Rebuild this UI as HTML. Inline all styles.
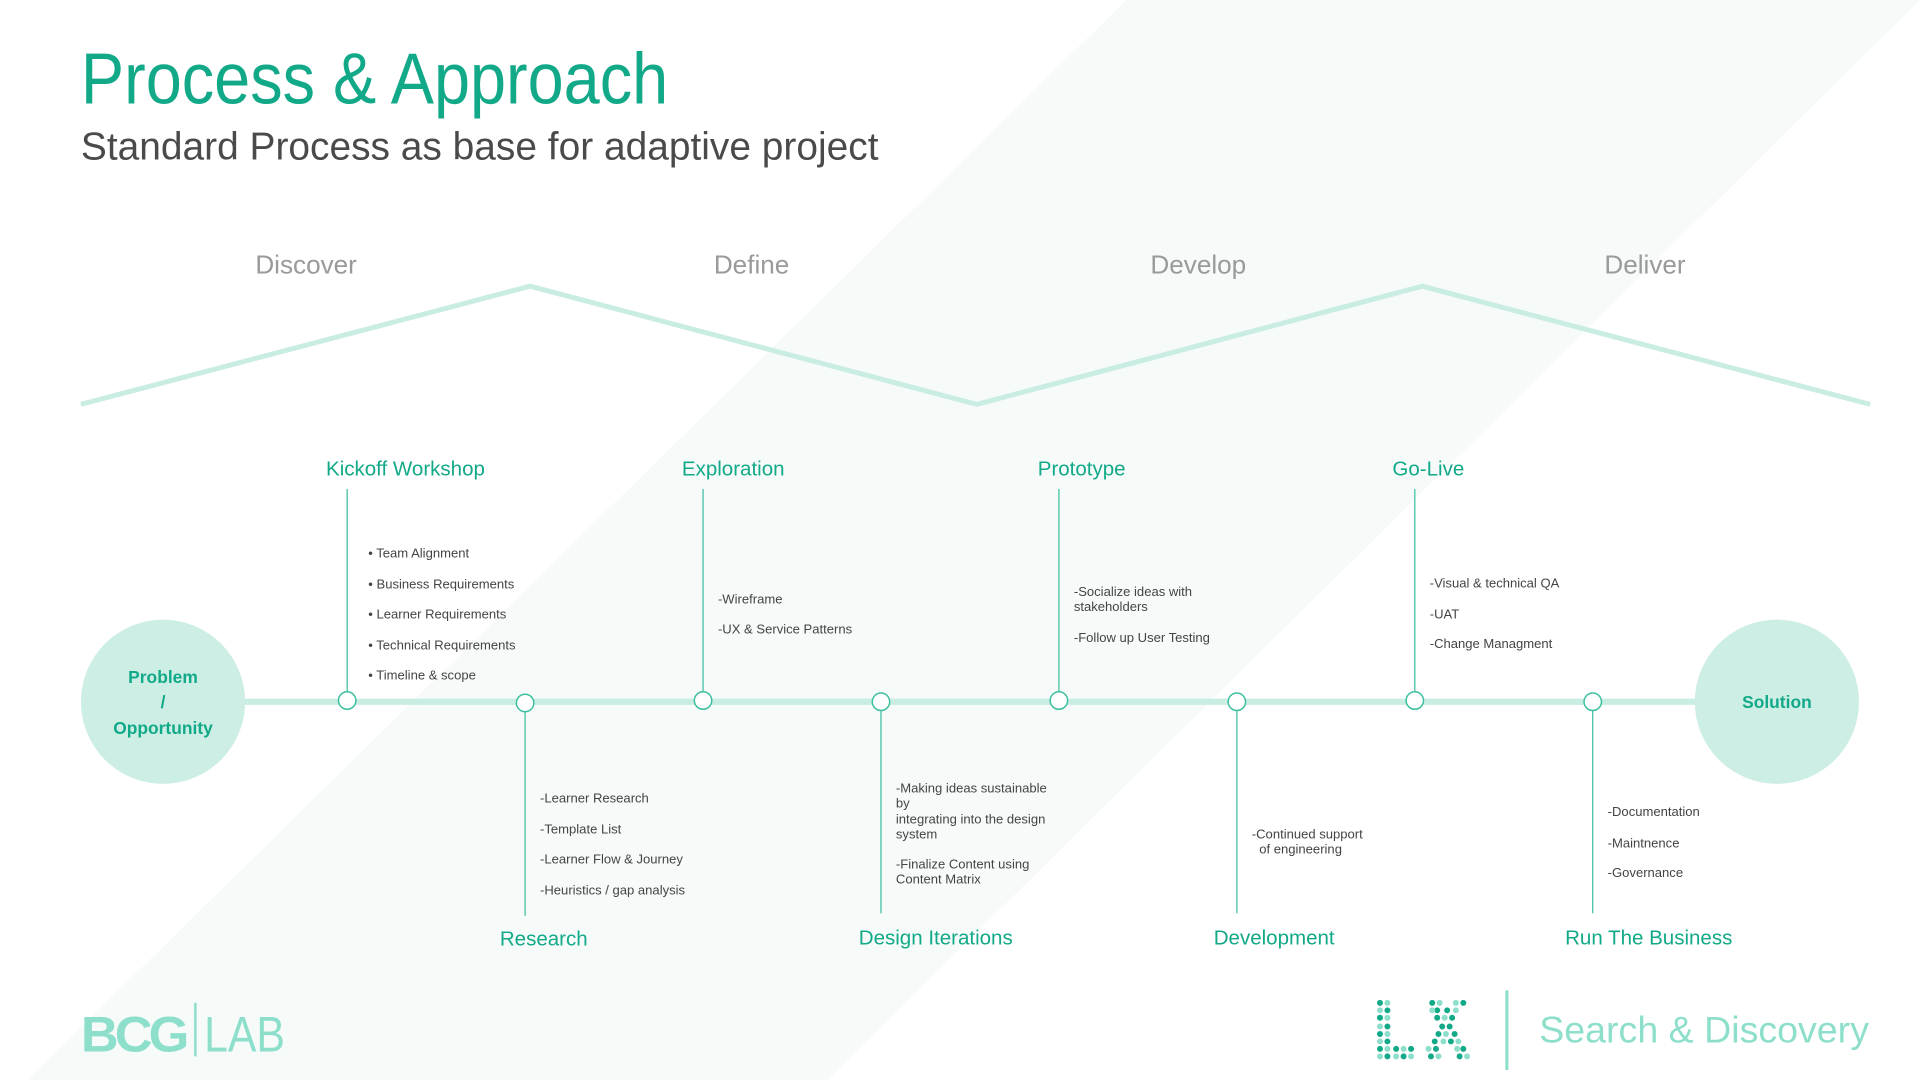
<!DOCTYPE html>
<html><head><meta charset="utf-8"><style>
html,body{margin:0;padding:0;background:#fff;width:1920px;height:1080px;overflow:hidden}
svg{display:block}
text{font-family:"Liberation Sans",Arial,sans-serif}
.it{font-size:10.5px;fill:#444}
.nl{font-size:16.5px;fill:#12a988}
.ph{font-size:21px;fill:#9a9a9a}
</style></head><body>
<svg width="1920" height="1080" viewBox="0 0 1543 868" preserveAspectRatio="none" xmlns="http://www.w3.org/2000/svg">
<polygon points="905,0 1543,0 665,868 22,868" fill="#f6fbfa"/>
<text x="65" y="83" font-size="58" fill="#12a988" textLength="472" lengthAdjust="spacingAndGlyphs">Process &amp; Approach</text>
<text x="65" y="128" font-size="31" fill="#4a4a4a" textLength="641" lengthAdjust="spacingAndGlyphs">Standard Process as base for adaptive project</text>
<g class="ph" text-anchor="middle">
<text x="246" y="220">Discover</text><text x="604" y="220">Define</text><text x="963" y="220">Develop</text><text x="1322" y="220">Deliver</text>
</g>
<polyline points="65,325 426,230 785,325 1143,230 1503,325" fill="none" stroke="#c9ece3" stroke-width="4" stroke-linejoin="round"/>
<line x1="190" y1="564" x2="1370" y2="564" stroke="#c9ece3" stroke-width="5"/>
<g stroke="#3cbf9f" stroke-width="1">
<line x1="279" y1="393" x2="279" y2="557"/><line x1="565" y1="393" x2="565" y2="557"/>
<line x1="851" y1="393" x2="851" y2="557"/><line x1="1137" y1="393" x2="1137" y2="557"/>
<line x1="422" y1="571" x2="422" y2="736"/><line x1="708" y1="571" x2="708" y2="734"/>
<line x1="994" y1="571" x2="994" y2="734"/><line x1="1280" y1="571" x2="1280" y2="734"/>
</g>
<g fill="#fff" stroke="#3cbf9f" stroke-width="1.2">
<circle cx="279" cy="563" r="7"/><circle cx="422" cy="565" r="7"/><circle cx="565" cy="563" r="7"/><circle cx="708" cy="564" r="7"/>
<circle cx="851" cy="563" r="7"/><circle cx="994" cy="564" r="7"/><circle cx="1137" cy="563" r="7"/><circle cx="1280" cy="564" r="7"/>
</g>
<circle cx="131" cy="564" r="66" fill="#cdeee5"/>
<circle cx="1428" cy="564" r="66" fill="#cdeee5"/>
<g font-size="14" font-weight="bold" fill="#12a988" text-anchor="middle">
<text x="131" y="549">Problem</text><text x="131" y="569">/</text><text x="131" y="590">Opportunity</text>
<text x="1428" y="569">Solution</text>
</g>
<g class="nl">
<text x="262" y="382">Kickoff Workshop</text><text x="548" y="382">Exploration</text>
<text x="834" y="382">Prototype</text><text x="1119" y="382">Go-Live</text>
</g>
<g class="nl" text-anchor="middle">
<text x="437" y="760">Research</text><text x="752" y="759">Design Iterations</text>
<text x="1024" y="759">Development</text><text x="1325" y="759">Run The Business</text>
</g>
<g class="it">
<text x="296" y="448">•  Team Alignment</text><text x="296" y="473">•  Business Requirements</text>
<text x="296" y="497">•  Learner Requirements</text><text x="296" y="522">•  Technical Requirements</text>
<text x="296" y="546">•  Timeline &amp; scope</text>
<text x="577" y="485">-Wireframe</text><text x="577" y="509">-UX &amp; Service Patterns</text>
<text x="863" y="479">-Socialize ideas with</text><text x="863" y="491">stakeholders</text>
<text x="863" y="516">-Follow up User Testing</text>
<text x="1149" y="472">-Visual &amp; technical QA</text><text x="1149" y="497">-UAT</text><text x="1149" y="521">-Change Managment</text>
<text x="434" y="645">-Learner Research</text><text x="434" y="670">-Template List</text>
<text x="434" y="694">-Learner Flow &amp; Journey</text><text x="434" y="719">-Heuristics / gap analysis</text>
<text x="720" y="637">-Making ideas sustainable</text><text x="720" y="649">by</text>
<text x="720" y="662"> integrating into the design</text><text x="720" y="674">system</text>
<text x="720" y="698">-Finalize Content using</text><text x="720" y="710">Content Matrix</text>
<text x="1006" y="674">-Continued support</text><text x="1012" y="686">of engineering</text>
<text x="1292" y="656">-Documentation</text><text x="1292" y="681">-Maintnence</text><text x="1292" y="705">-Governance</text>
</g>
<text x="65" y="845" font-size="40" font-weight="bold" fill="#8ddfcb" textLength="84" lengthAdjust="spacingAndGlyphs" letter-spacing="-3">BCG</text>
<line x1="157" y1="806" x2="157" y2="849" stroke="#8ddfcb" stroke-width="2"/>
<text x="164" y="845" font-size="40" fill="#8ddfcb" textLength="65" lengthAdjust="spacingAndGlyphs">LAB</text>
<g>
<g fill="#12a988">
<circle cx="1109" cy="806" r="2.4"/><circle cx="1115" cy="812" r="2.4"/><circle cx="1109" cy="818" r="2.4"/><circle cx="1115" cy="825" r="2.4"/>
<circle cx="1109" cy="831" r="2.4"/><circle cx="1115" cy="837" r="2.4"/>
<circle cx="1109" cy="843" r="2.4"/><circle cx="1122" cy="843" r="2.4"/><circle cx="1134" cy="843" r="2.4"/>
<circle cx="1115" cy="849" r="2.4"/><circle cx="1128" cy="849" r="2.4"/>
<circle cx="1151" cy="806" r="2.4"/><circle cx="1176" cy="806" r="2.4"/>
<circle cx="1155" cy="812" r="2.4"/><circle cx="1163" cy="812" r="2.4"/>
<circle cx="1155" cy="818" r="2.4"/><circle cx="1167" cy="818" r="2.4"/>
<circle cx="1159" cy="825" r="2.4"/><circle cx="1165" cy="825" r="2.4"/>
<circle cx="1156" cy="831" r="2.4"/><circle cx="1169" cy="831" r="2.4"/>
<circle cx="1153" cy="837" r="2.4"/><circle cx="1166" cy="837" r="2.4"/>
<circle cx="1154" cy="843" r="2.4"/><circle cx="1176" cy="843" r="2.4"/>
<circle cx="1150" cy="849" r="2.4"/><circle cx="1173" cy="849" r="2.4"/>
</g>
<g fill="#8ddfcb">
<circle cx="1115" cy="806" r="2.4"/><circle cx="1109" cy="812" r="2.4"/><circle cx="1115" cy="818" r="2.4"/><circle cx="1109" cy="825" r="2.4"/>
<circle cx="1115" cy="831" r="2.4"/><circle cx="1109" cy="837" r="2.4"/>
<circle cx="1115" cy="843" r="2.4"/><circle cx="1128" cy="843" r="2.4"/>
<circle cx="1109" cy="849" r="2.4"/><circle cx="1122" cy="849" r="2.4"/><circle cx="1134" cy="849" r="2.4"/>
<circle cx="1157" cy="806" r="2.4"/><circle cx="1170" cy="806" r="2.4"/>
<circle cx="1151" cy="812" r="2.4"/><circle cx="1170" cy="812" r="2.4"/>
<circle cx="1161" cy="818" r="2.4"/>
<circle cx="1162" cy="831" r="2.4"/>
<circle cx="1160" cy="837" r="2.4"/><circle cx="1172" cy="837" r="2.4"/>
<circle cx="1148" cy="843" r="2.4"/><circle cx="1171" cy="843" r="2.4"/>
<circle cx="1156" cy="849" r="2.4"/><circle cx="1179" cy="849" r="2.4"/>
</g>
</g>
<line x1="1211" y1="796" x2="1211" y2="860" stroke="#8ddfcb" stroke-width="2.5"/>
<text x="1237" y="838" font-size="30" fill="#8ddfcb" textLength="265" lengthAdjust="spacingAndGlyphs">Search &amp; Discovery</text>
</svg>
</body></html>
